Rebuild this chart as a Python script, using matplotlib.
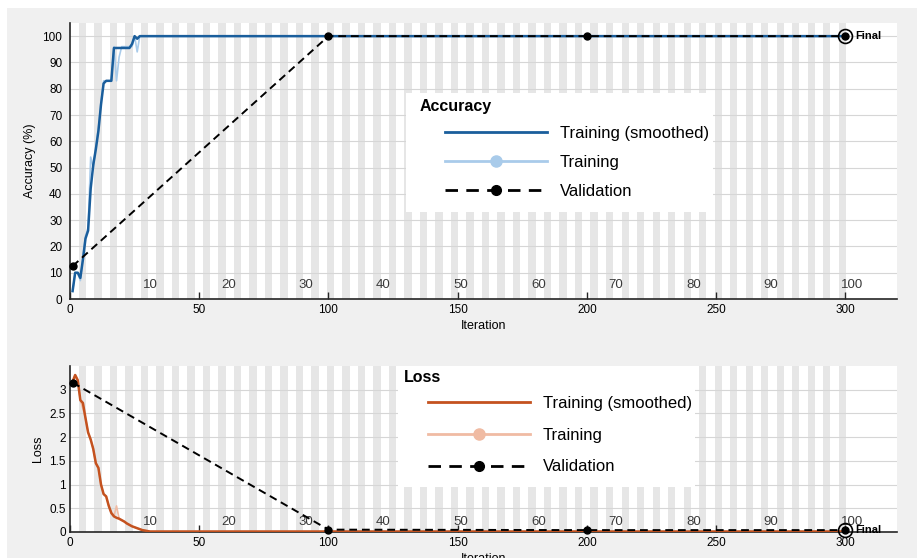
import numpy as np
import matplotlib
matplotlib.use("Agg")
import matplotlib.pyplot as plt
from matplotlib.patches import Rectangle
from matplotlib.lines import Line2D

plt.rcParams['font.family'] = ['Liberation Sans', 'DejaVu Sans']

# ---------------- data ----------------
n_iterations = 300
iters_per_epoch = 3
iterations = np.arange(1, n_iterations + 1)

acc_smooth_head = [3, 10, 10, 8, 15, 23, 26, 42, 51, 57, 64, 74, 82, 83, 83,
                   83, 95.5, 95.5, 95.5, 95.5, 95.5, 95.5, 95.5, 97, 100, 99,
                   100, 100, 100, 100]
acc_raw_head = [3, 10, 10, 7, 16, 24, 27, 54, 50, 58, 65, 75, 83, 83, 83,
                83, 96, 83, 92, 96, 96, 96, 96, 96, 100, 94, 100, 100, 100, 100]
acc_tail = 100.0

loss_smooth_head = [3.17, 3.31, 3.20, 2.78, 2.72, 2.40, 2.10, 1.95, 1.75, 1.45,
                    1.35, 1.00, 0.80, 0.75, 0.55, 0.40, 0.33, 0.30, 0.28, 0.25,
                    0.22, 0.18, 0.15, 0.12, 0.10, 0.08, 0.06, 0.04, 0.03, 0.02]
loss_raw_head = [3.17, 3.31, 3.20, 2.78, 2.60, 2.40, 2.10, 1.95, 1.75, 1.45,
                 1.35, 1.00, 0.80, 0.75, 0.55, 0.40, 0.33, 0.55, 0.28, 0.25,
                 0.22, 0.18, 0.15, 0.12, 0.10, 0.08, 0.06, 0.04, 0.03, 0.02]
loss_tail = 0.01

val_iters = [1, 100, 200, 300]
val_acc = [12.5, 100, 100, 100]
val_loss = [3.15, 0.05, 0.04, 0.04]

epoch_labels = [10, 20, 30, 40, 50, 60, 70, 80, 90, 100]
n_epochs = 100
x_ticks = [0, 50, 100, 150, 200, 250, 300]
acc_yticks = [0, 10, 20, 30, 40, 50, 60, 70, 80, 90, 100]
loss_yticks = [0, 0.5, 1, 1.5, 2, 2.5, 3]
legend_labels = ["Training (smoothed)", "Training", "Validation"]


def full(head, tail):
    return np.concatenate([np.array(head, float),
                           np.full(n_iterations - len(head), tail)])


acc_smooth = full(acc_smooth_head, acc_tail)
acc_raw = full(acc_raw_head, acc_tail)
loss_smooth = full(loss_smooth_head, loss_tail)
loss_raw = full(loss_raw_head, loss_tail)

# ---------------- style ----------------
W, H = 917, 558
def fx(px): return px / W
def fy(py): return 1 - py / H

acc_dark = '#1a5e9c'
acc_light = '#a9cbea'
loss_dark = '#c4521f'
loss_light = '#f0bba3'
stripe = '#e6e6e6'
gridc = '#d6d6d6'
spinec = '#262626'

fig = plt.figure(figsize=(W / 100, H / 100), dpi=100, facecolor='white')
fig.add_artist(Rectangle((fx(7), 0), 1, fy(8), transform=fig.transFigure,
                         facecolor='#f0f0f0', edgecolor='none', zorder=-10))

ax1 = fig.add_axes([fx(70), fy(299), (897 - 70) / W, (299 - 23) / H])
ax2 = fig.add_axes([fx(70), fy(532), (897 - 70) / W, (532 - 366) / H])


def style_axes(ax, ylim, yticks, ylabel, ypad, epoch_y, ylabelpad):
    ax.set_facecolor('white')
    ax.set_xlim(0, 320)
    ax.set_ylim(*ylim)
    for e in range(2, n_epochs + 1, 2):
        ax.axvspan((e - 1) * iters_per_epoch + 0.4, e * iters_per_epoch + 0.2,
                   color=stripe, lw=0, zorder=0.2)
    ax.set_axisbelow(True)
    ax.yaxis.grid(True, color=gridc, lw=0.8)
    ax.set_xticks(x_ticks)
    ax.set_yticks(yticks)
    ax.set_yticklabels([('%g' % v) for v in yticks])
    for s in ['top', 'right']:
        ax.spines[s].set_visible(False)
    for s in ['left', 'bottom']:
        ax.spines[s].set_color(spinec)
        ax.spines[s].set_linewidth(1.2)
    ax.tick_params(axis='x', direction='in', length=5, width=1, color=spinec,
                   labelsize=8.5, pad=3.5)
    ax.tick_params(axis='y', direction='in', length=0, labelsize=8.5, pad=ypad)
    ax.set_ylabel(ylabel, fontsize=9, labelpad=ylabelpad)
    ax.set_xlabel('Iteration', fontsize=9, labelpad=3)
    for ep in epoch_labels:
        ax.text(ep * iters_per_epoch - 1.6, epoch_y, str(ep), fontsize=9.5,
                color='#3a3a3a', ha='left', va='center', zorder=3)


style_axes(ax1, (0, 105), acc_yticks, 'Accuracy (%)', 5.5, 5.3, 5)
style_axes(ax2, (0, 3.5), loss_yticks, 'Loss', 3, 0.22, 4)

dash = (4, 2.5)
for ax, raw, sm, val, dark, light in [
        (ax1, acc_raw, acc_smooth, val_acc, acc_dark, acc_light),
        (ax2, loss_raw, loss_smooth, val_loss, loss_dark, loss_light)]:
    ax.plot(iterations, raw, color=light, lw=1.2, zorder=2)
    ax.plot(iterations, sm, color=dark, lw=1.8, zorder=3)
    ax.plot(val_iters, val, color='black', ls='--', dashes=dash, lw=1.4,
            marker='o', ms=5, zorder=4, clip_on=False)
    ax.plot([val_iters[-1]], [val[-1]], 'o', mfc='none', mec='black', ms=10,
            mew=1.2, zorder=5, clip_on=False)
    ax.text(val_iters[-1] + 4, val[-1], 'Final', fontsize=8, fontweight='bold',
            ha='left', va='center', zorder=5)


def make_legend(title, dark, light, box, title_xy, anchor, spacing):
    x0, y0, x1, y1 = box
    fig.add_artist(Rectangle((fx(x0), fy(y1)), (x1 - x0) / W, (y1 - y0) / H,
                             transform=fig.transFigure, facecolor='white',
                             edgecolor='none', zorder=1))
    handles = [
        Line2D([], [], color=dark, lw=2),
        Line2D([], [], color=light, lw=2, marker='o', ms=8, mfc=light,
               mec=light),
        Line2D([], [], color='black', lw=2, ls='--', dashes=(4.5, 3),
               marker='o', ms=7),
    ]
    leg = fig.legend(handles, legend_labels, loc='upper left',
                     bbox_to_anchor=(fx(anchor[0]), fy(anchor[1])),
                     bbox_transform=fig.transFigure, frameon=False,
                     borderpad=0, borderaxespad=0, handlelength=6.1,
                     handletextpad=0.8, labelspacing=spacing, fontsize=12,
                     numpoints=1)
    leg.set_zorder(5)
    fig.text(fx(title_xy[0]), fy(title_xy[1]), title, fontsize=11.5,
             fontweight='bold', ha='left', va='center', zorder=6)


make_legend('Accuracy', acc_dark, acc_light, (406, 93, 713, 212),
            (420, 107), (445, 126), 0.85)
make_legend('Loss', loss_dark, loss_light, (398, 366, 695, 487),
            (404, 378), (428, 396), 1.0)

fig.savefig('out.png', dpi=100, facecolor=fig.get_facecolor())
